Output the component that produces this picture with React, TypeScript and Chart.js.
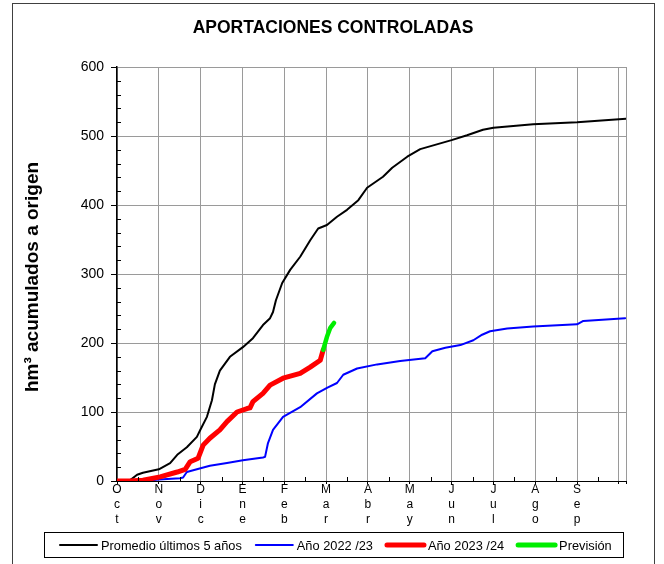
import React, { useEffect, useRef } from 'react';
import { Chart, registerables } from 'chart.js';

Chart.register(...registerables);

const FONT = '"Liberation Sans", Arial, sans-serif';

const chartTitle = 'APORTACIONES CONTROLADAS';
const yAxisTitle = 'hm³ acumulados a origen';
const monthLabels = ['Oct', 'Nov', 'Dic', 'Ene', 'Feb', 'Mar', 'Abr', 'May', 'Jun', 'Jul', 'Ago', 'Sep'];
const seriesNames = ['Promedio últimos 5 años', 'Año 2022 /23', 'Año 2023 /24', 'Previsión'];
const seriesColors = ['#000000', '#0000ff', '#ff0000', '#00ee00'];

// x values are months since 1 October
const promX = [0, 0.31, 0.48, 0.62, 1.0, 1.27, 1.44, 1.67, 1.91, 1.99, 2.15, 2.27, 2.34, 2.46, 2.7, 3.01, 3.25, 3.49, 3.66, 3.73, 3.8, 3.95, 4.14, 4.38, 4.62, 4.81, 5.02, 5.26, 5.5, 5.77, 5.98, 6.36, 6.58, 6.94, 7.25, 8.0, 8.37, 8.75, 9.0, 9.95, 11.0, 12.17];
const promY = [0, 1, 9, 12, 17, 26, 38, 49, 64, 74, 93, 117, 140, 160, 180, 194, 207, 226, 236, 245, 262, 287, 306, 325, 349, 366, 371, 383, 393, 407, 425, 441, 454, 470, 481, 494, 501, 509, 512, 517, 520, 525];

const prevYearX = [0, 0.79, 1.0, 1.51, 1.58, 1.67, 1.91, 2.22, 2.63, 3.01, 3.49, 3.54, 3.61, 3.73, 3.97, 4.38, 4.78, 5.02, 5.26, 5.41, 5.74, 6.22, 6.77, 7.37, 7.54, 7.85, 8.21, 8.52, 8.73, 8.92, 9.33, 9.95, 11.0, 11.15, 12.15];
const prevYearY = [0, 1, 2, 4, 5, 13, 17, 22, 26, 30, 34, 35, 55, 74, 93, 107, 127, 135, 142, 154, 163, 169, 174, 178, 188, 193, 197, 204, 212, 217, 221, 224, 227, 232, 236];

const currYearX = [0, 0.3, 0.62, 1.03, 1.44, 1.63, 1.75, 1.94, 2.06, 2.22, 2.46, 2.63, 2.87, 3.11, 3.18, 3.25, 3.49, 3.66, 3.97, 4.38, 4.62, 4.86, 4.93];
const currYearY = [0, 0, 1, 6, 13, 17, 28, 33, 52, 62, 74, 86, 100, 105, 106, 115, 127, 139, 149, 156, 165, 175, 190];

const forecastX = [4.93, 5.02, 5.1, 5.19];
const forecastY = [190, 209, 222, 229];

const toPoints = (xs: number[], ys: number[]) => xs.map((x, i) => ({ x, y: ys[i] }));

const decorPlugin = {
  id: 'decor',
  afterDraw(chart: any) {
    const ctx = chart.ctx;
    const { left, bottom } = chart.chartArea;
    const xs = chart.scales.x;
    const ys = chart.scales.y;
    ctx.save();
    // outer frame
    ctx.strokeStyle = '#404040';
    ctx.lineWidth = 1;
    ctx.strokeRect(12.5, 3.5, 642, 620);
    // title
    ctx.fillStyle = '#000';
    ctx.font = `bold 17.5px ${FONT}`;
    ctx.textAlign = 'center';
    ctx.textBaseline = 'middle';
    ctx.fillText(chartTitle, 333, 28);
    // y axis title
    ctx.save();
    ctx.translate(33, 277);
    ctx.rotate(-Math.PI / 2);
    ctx.font = `bold 19px ${FONT}`;
    ctx.fillText(yAxisTitle, 0, 0);
    ctx.restore();
    // minor ticks
    ctx.strokeStyle = '#000';
    ctx.lineWidth = 1;
    ctx.beginPath();
    for (let v = 20; v < 600; v += 20) {
      if (v % 100 === 0) continue;
      const y = Math.round(ys.getPixelForValue(v)) + 0.5;
      ctx.moveTo(left, y);
      ctx.lineTo(left + 4, y);
    }
    for (let m = 0.5; m < 12.17; m += 1) {
      const x = Math.round(xs.getPixelForValue(m)) + 0.5;
      ctx.moveTo(x, bottom);
      ctx.lineTo(x, bottom - 4);
    }
    ctx.stroke();
    // legend
    ctx.strokeStyle = '#000';
    ctx.strokeRect(44.5, 532.5, 579, 25);
    ctx.font = `12.8px ${FONT}`;
    ctx.textAlign = 'left';
    ctx.textBaseline = 'middle';
    const widths = [2, 2, 5, 5];
    let x = 60;
    const cy = 545;
    seriesNames.forEach((name, i) => {
      ctx.strokeStyle = seriesColors[i];
      ctx.lineWidth = widths[i];
      ctx.lineCap = 'round';
      ctx.beginPath();
      ctx.moveTo(x, cy);
      ctx.lineTo(x + 37, cy);
      ctx.stroke();
      ctx.fillStyle = '#000';
      ctx.fillText(name, x + 41, cy + 1);
      x += 41 + ctx.measureText(name).width + 14;
    });
    ctx.restore();
  },
};

export default function App() {
  const ref = useRef<HTMLCanvasElement | null>(null);
  useEffect(() => {
    if (!ref.current) return;
    const chart = new Chart(ref.current, {
      type: 'line',
      data: {
        datasets: [
          { label: seriesNames[0], data: toPoints(promX, promY), borderColor: seriesColors[0], borderWidth: 2, order: 4 },
          { label: seriesNames[1], data: toPoints(prevYearX, prevYearY), borderColor: seriesColors[1], borderWidth: 2, order: 3 },
          { label: seriesNames[2], data: toPoints(currYearX, currYearY), borderColor: seriesColors[2], borderWidth: 5, order: 2 },
          { label: seriesNames[3], data: toPoints(forecastX, forecastY), borderColor: seriesColors[3], borderWidth: 4.5, order: 1 },
        ] as any,
      },
      options: {
        animation: false,
        responsive: false,
        devicePixelRatio: 1,
        elements: {
          point: { radius: 0 },
          line: { tension: 0, borderCapStyle: 'round', borderJoinStyle: 'round', fill: false },
        },
        layout: { padding: { top: 67, left: 0, right: 38, bottom: 0 } },
        plugins: { legend: { display: false }, title: { display: false }, tooltip: { enabled: false } },
        scales: {
          x: {
            type: 'linear',
            min: 0,
            max: 12.17,
            afterBuildTicks: (s: any) => {
              const t = monthLabels.map((_, i) => ({ value: i }));
              t.push({ value: 12 });
              t.push({ value: 12.17 });
              s.ticks = t;
            },
            afterFit: (s: any) => { s.height = 83; },
            ticks: {
              autoSkip: false,
              maxRotation: 0,
              minRotation: 0,
              padding: -2,
              color: '#000',
              font: { family: FONT, size: 12, lineHeight: 1.25 },
              callback: (v: any) => (Number.isInteger(v) && v < 12 ? monthLabels[v].split('') : ''),
            },
            grid: { color: '#9a9a9a', lineWidth: 1, tickLength: 3, tickColor: '#000' },
            border: { color: '#000', width: 1 },
          },
          y: {
            min: 0,
            max: 600,
            afterFit: (s: any) => { s.width = 117; },
            ticks: { stepSize: 100, padding: 7, color: '#000', font: { family: FONT, size: 14 } },
            grid: { color: '#9a9a9a', lineWidth: 1, tickLength: 6, tickColor: '#000' },
            border: { color: '#000', width: 1.5 },
          },
        },
      } as any,
      plugins: [decorPlugin],
    });
    return () => chart.destroy();
  }, []);
  return (
    <div style={{ position: 'absolute', left: 0, top: 0, width: 664, height: 564, background: '#fff' }}>
      <canvas ref={ref} width={664} height={564} style={{ display: 'block' }} />
    </div>
  );
}
